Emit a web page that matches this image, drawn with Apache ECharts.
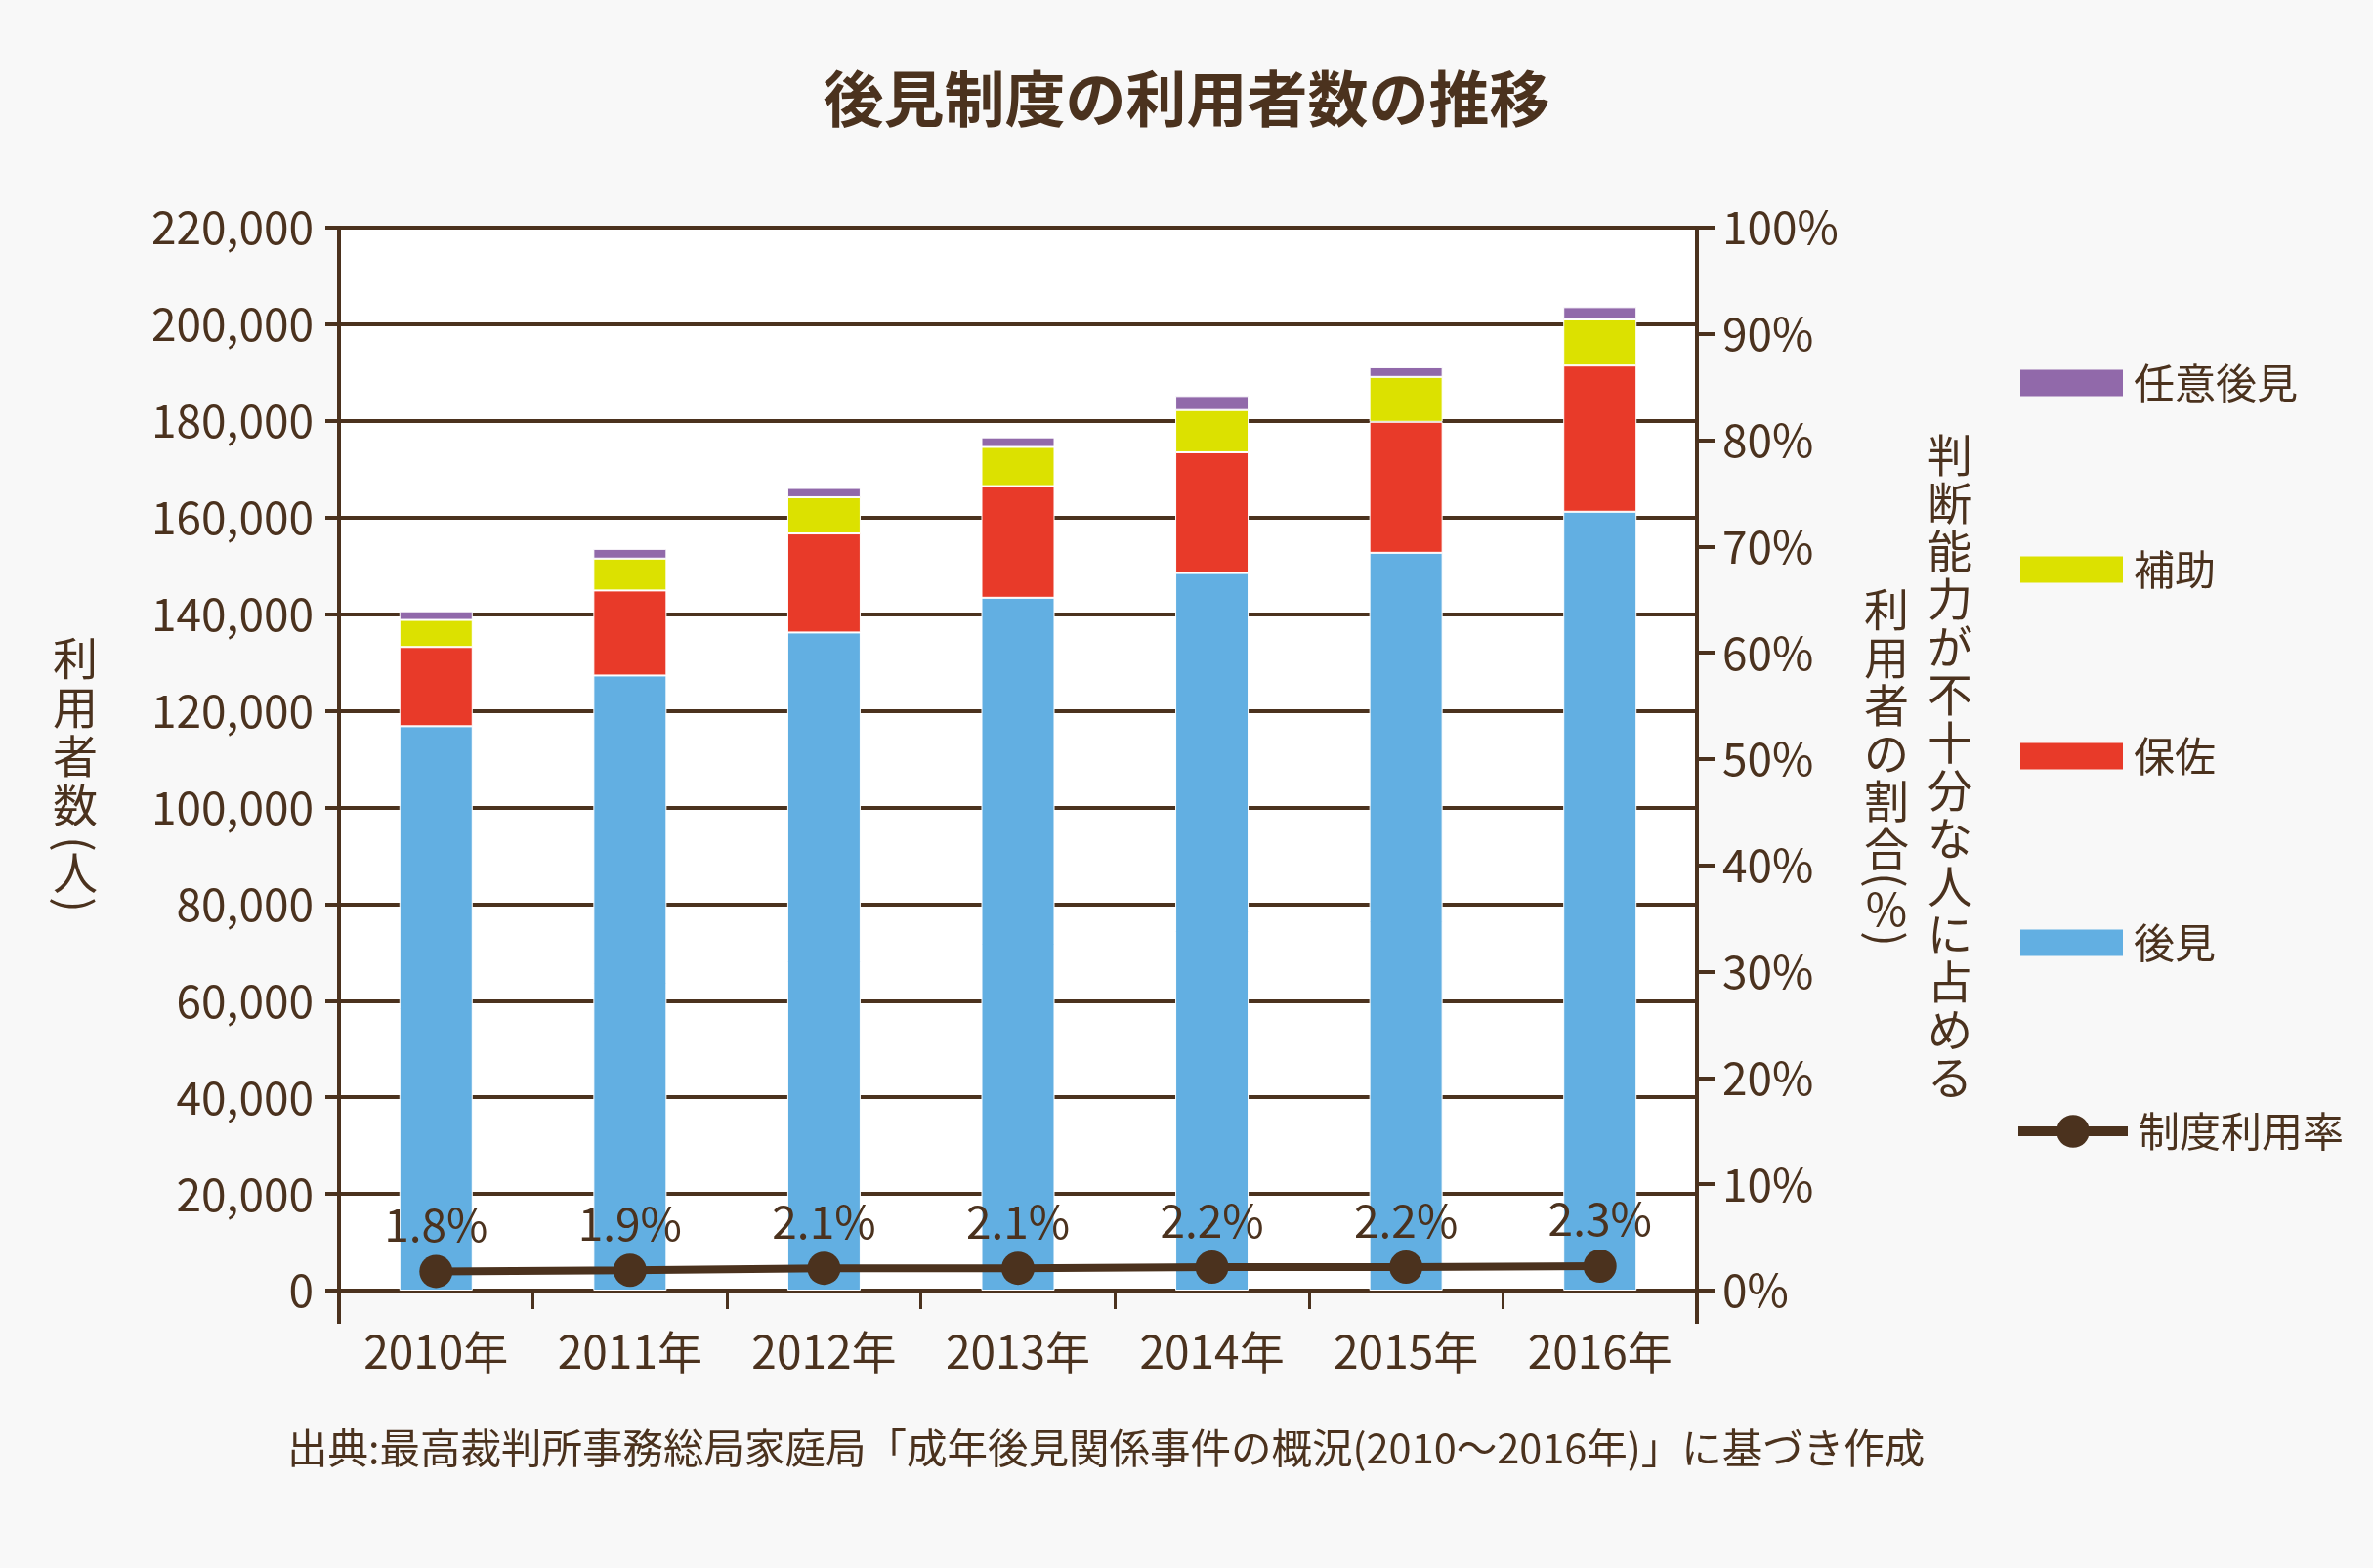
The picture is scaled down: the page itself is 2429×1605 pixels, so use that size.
<!DOCTYPE html>
<html>
<head>
<meta charset="utf-8">
<script src="https://cdn.jsdelivr.net/npm/echarts@6/dist/echarts.min.js"></script>
<style>
html,body{margin:0;padding:0;background:#f8f8f8;}
#c{width:2429px;height:1605px;}
</style>
</head>
<body>
<div id="c"></div>
<script>
// ---- data ----
const years = ['2010年','2011年','2012年','2013年','2014年','2015年','2016年'];
const koken = [116800, 127300, 136200, 143400, 148500, 152700, 161200]; // 後見
const hosa  = [16400, 17600, 20500, 23100, 25000, 27100, 30250];        // 保佐
const hojo  = [5600, 6600, 7500, 8100, 8750, 9300, 9550];               // 補助
const nini  = [1800, 2000, 1900, 2000, 2900, 2000, 2550];               // 任意後見
const rate  = [1.8, 1.9, 2.1, 2.1, 2.2, 2.2, 2.3];                      // 制度利用率(%)
const leftTicks = {min: 0, max: 220000, interval: 20000};
const rightTicks = {min: 0, max: 100, interval: 10};

const BROWN = '#4b321e';
const FONT = "'Noto Sans CJK JP', 'Noto Sans', sans-serif";

const chart = echarts.init(document.getElementById('c'), null, {renderer: 'canvas'});

function barSeries(name, data, color) {
  return {
    name: name, type: 'bar', stack: 'total', data: data, barWidth: 75,
    xAxisIndex: 0, yAxisIndex: 0,
    itemStyle: {color: color, borderColor: '#ffffff', borderWidth: 1},
    emphasis: {disabled: true}
  };
}

function vtext(x, y, text, lh) {
  return {type: 'text', x: x, y: y, style: {
    text: text, fontSize: 46, lineHeight: lh, fontFamily: FONT, fill: BROWN,
    align: 'center', verticalAlign: 'middle'}};
}
function vparen(x, y, ch) {
  return {type: 'text', x: x, y: y, rotation: -Math.PI / 2, style: {
    text: ch, fontSize: 46, lineHeight: 46, fontFamily: FONT, fill: BROWN,
    align: 'center', verticalAlign: 'middle'}};
}

const option = {
  backgroundColor: '#f8f8f8',
  animation: false,
  textStyle: {fontFamily: FONT, color: BROWN},
  title: [
    {text: '後見制度の利用者数の推移', left: 'center', top: 70, padding: 0,
     textStyle: {fontSize: 62, fontWeight: 'bold', color: BROWN, lineHeight: 62, fontFamily: FONT}},
    {text: '出典:最高裁判所事務総局家庭局「成年後見関係事件の概況(2010～2016年)」に基づき作成',
     left: 294, top: 1461, padding: 0,
     textStyle: {fontSize: 41.5, fontWeight: 'normal', color: BROWN, lineHeight: 42, fontFamily: FONT}}
  ],
  legend: [
    {data: ['任意後見','補助','保佐','後見'], orient: 'vertical', left: 2068, top: 371,
     itemWidth: 105, itemHeight: 27, itemGap: 149, selectedMode: false, padding: 0, icon: 'rect',
     itemStyle: {borderWidth: 0},
     textStyle: {fontSize: 42, color: BROWN, lineHeight: 42, padding: [0,0,0,6], fontFamily: FONT}},
    {data: ['制度利用率'], orient: 'vertical', left: 2061, top: 1137,
     itemWidth: 112, itemHeight: 42, selectedMode: false, padding: 0,
     lineStyle: {width: 10, color: BROWN},
     textStyle: {fontSize: 42, color: BROWN, lineHeight: 42, padding: [0,0,0,6], fontFamily: FONT}}
  ],
  grid: {left: 347, right: 692, top: 233, bottom: 284, show: true, backgroundColor: '#ffffff', borderWidth: 0},
  xAxis: [
    {
      type: 'category', data: years, boundaryGap: true,
      axisLine: {show: true, lineStyle: {color: BROWN, width: 4}},
      axisTick: {show: true, length: 19, interval: 0, lineStyle: {color: BROWN, width: 3}},
      axisLabel: {fontSize: 46, color: BROWN, margin: 40, lineHeight: 46, interval: 0, fontFamily: FONT}
    },
    {
      // only used to extend the two vertical axis lines below the baseline
      type: 'value', position: 'bottom', min: 0, max: 7, interval: 7,
      axisLine: {show: false}, axisLabel: {show: false}, splitLine: {show: false},
      axisTick: {show: true, length: 34, lineStyle: {color: BROWN, width: 4}}
    }
  ],
  yAxis: [
    {
      type: 'value', position: 'left', min: leftTicks.min, max: leftTicks.max, interval: leftTicks.interval,
      axisLine: {show: true, lineStyle: {color: BROWN, width: 4}},
      axisTick: {show: true, length: 14, lineStyle: {color: BROWN, width: 4}},
      splitLine: {show: true, lineStyle: {color: BROWN, width: 4}},
      axisLabel: {fontSize: 46, color: BROWN, margin: 26, fontFamily: FONT,
                  formatter: v => v.toLocaleString('en-US')}
    },
    {
      type: 'value', position: 'right', min: rightTicks.min, max: rightTicks.max, interval: rightTicks.interval,
      axisLine: {show: true, lineStyle: {color: BROWN, width: 4}},
      axisTick: {show: true, length: 18, lineStyle: {color: BROWN, width: 4}},
      splitLine: {show: false},
      axisLabel: {fontSize: 46, color: BROWN, margin: 26, fontFamily: FONT, formatter: '{value}%'}
    }
  ],
  series: [
    barSeries('後見', koken, '#62afe2'),
    barSeries('保佐', hosa, '#e83a29'),
    barSeries('補助', hojo, '#dce100'),
    barSeries('任意後見', nini, '#9169aa'),
    {
      name: '制度利用率', type: 'line', xAxisIndex: 0, yAxisIndex: 1, data: rate, z: 10,
      symbol: 'circle', symbolSize: 34,
      lineStyle: {color: BROWN, width: 8},
      itemStyle: {color: BROWN},
      label: {show: true, position: 'top', distance: 8, formatter: '{c}%',
              fontSize: 46, color: BROWN, lineHeight: 46, fontFamily: FONT},
      emphasis: {disabled: true}
    }
  ],
  graphic: [
    // left axis name: 利用者数(人) (vertical)
    vtext(77, 749, '利\n用\n者\n数', 50),
    vparen(77, 864, '('),
    vtext(77, 893, '人', 46),
    vparen(77, 926, ')'),
    // right axis name, right column
    vtext(1996, 784, '判\n断\n能\n力\nが\n不\n十\n分\nな\n人\nに\n占\nめ\nる', 49),
    // right axis name, left column: 利用者の割合(%)
    vtext(1931, 746, '利\n用\n者\nの\n割\n合', 49),
    vparen(1931, 901, '('),
    vtext(1931, 931, '%', 46),
    vparen(1931, 961, ')')
  ]
};
chart.setOption(option);
</script>
</body>
</html>
